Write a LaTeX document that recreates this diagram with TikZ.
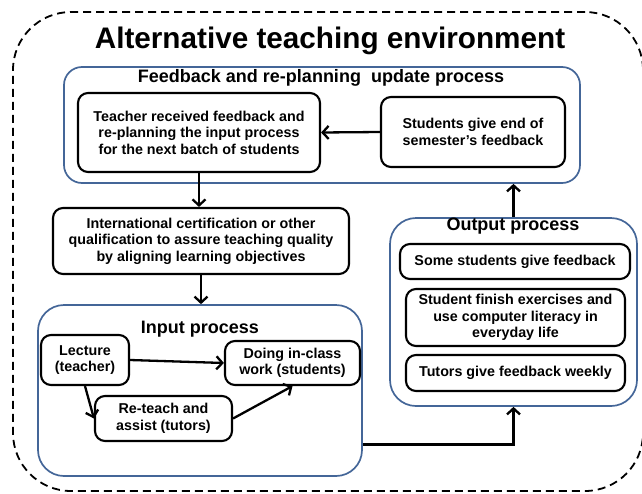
\documentclass[tikz,border=0pt]{standalone}
\usepackage{fontspec}
\setmainfont{Liberation Sans}
\usetikzlibrary{arrows.meta, positioning}
\definecolor{procblue}{RGB}{68,102,152}
\tikzstyle{env box}=[draw=black, dashed, dash pattern=on 8pt off 5pt, line width=1.8pt, rounded corners=58pt, inner sep=0pt]
\tikzstyle{process box}=[draw=procblue, line width=1.7pt, rounded corners=26pt, inner sep=0pt]
\tikzstyle{step box}=[draw=black, fill=white, line width=2.1pt, rounded corners=10pt, align=center, inner sep=1pt, font=\bfseries\fontsize{14.3}{16.5}\selectfont]
\tikzstyle{annot}=[inner sep=0pt, font=\bfseries\fontsize{18}{20}\selectfont]
\tikzstyle{title text}=[inner sep=0pt, font=\bfseries\fontsize{29.7}{32}\selectfont]
\tikzstyle{flow}=[-{Straight Barb[length=6pt,width=13pt]}, line width=2.3pt]

\begin{document}
\begin{tikzpicture}[x=1pt, y=-1pt]
		\useasboundingbox (0,0) rectangle (642,493);
		% Draw the outer environment
		\node[env box, minimum width=630pt, minimum height=479pt] (env) at (328,251.5) {};
		\node[title text, anchor=base] (title) at (330,48.5) {Alternative teaching environment};

		% Draw the feedback and re-planning process
		\node[process box, rounded corners=18pt, minimum width=516pt, minimum height=116pt] (fb) at (322,125) {};
		\node[annot, anchor=base] (fb-label) at (321,82) {Feedback and re-planning\ \ update process};
		\node[step box, minimum width=242pt, minimum height=79pt] (teacher) at (199,132.5) {Teacher received feedback and\\re-planning the input process\\for the next batch of students};
		\node[step box, minimum width=184pt, minimum height=70pt] (students) at (473,132) {Students give end of\\semester's feedback};

		% Draw the certification step
		\node[step box, minimum width=296pt, minimum height=66pt] (cert) at (201,241) {International certification or other\\qualification to assure teaching quality\\by aligning learning objectives};

		% Draw the input process
		\node[process box, minimum width=324pt, minimum height=171pt] (input) at (200,390.5) {};
		\node[annot, anchor=base] (in-label) at (200,333) {Input process};
		\node[step box, minimum width=88pt, minimum height=50pt] (lecture) at (85,360) {Lecture\\(teacher)};
		\node[step box, minimum width=135pt, minimum height=44pt] (doing) at (292.5,363) {Doing in-class\\work (students)};
		\node[step box, minimum width=137pt, minimum height=45pt] (reteach) at (163.5,418.5) {Re-teach and\\assist (tutors)};

		% Draw the output process
		\node[process box, minimum width=247pt, minimum height=188pt] (output) at (513.5,312) {};
		\node[annot, anchor=base] (out-label) at (513,230) {Output process};
		\node[step box, minimum width=230pt, minimum height=35pt] (some) at (515,261.5) {Some students give feedback};
		\node[step box, minimum width=219pt, minimum height=57pt] (finish) at (515.5,317.5) {Student finish exercises and\\use computer literacy in\\everyday life};
		\node[step box, minimum width=219pt, minimum height=36pt] (tutors) at (515.5,373) {Tutors give feedback weekly};

		% Connect the steps
		\draw[flow] (students.west) -- (teacher.east);
		\draw[flow] (teacher.south) -- (teacher.south |- cert.north);
		\draw[flow] (cert.south) -- (cert.south |- input.north);
		\draw[flow] (lecture.east) -- (doing.west);
		\draw[flow] (lecture.south) -- (reteach.west);
		\draw[flow] (reteach.east) -- (doing.south);
		\draw[flow] (input.east) ++(0,54) -| (output.south);
		\draw[flow] (output.north) -- (output.north |- fb.south);
	\end{tikzpicture}
\end{document}
